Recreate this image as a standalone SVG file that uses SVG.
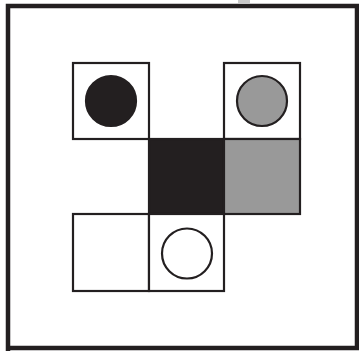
<svg xmlns="http://www.w3.org/2000/svg" width="359" height="353" viewBox="0 0 359 353">
<style>
.cell{stroke:#231f20;stroke-width:2.2}
.dot{stroke:#231f20;stroke-width:2.2}
</style>
<rect width="359" height="353" fill="#fff"/>
<rect x="238" y="0" width="12" height="3" fill="#c8c8c8"/>
<g id="frame">
<path d="M8 351 V6 H357 V348 H8" fill="none" stroke="#231f20" stroke-width="4.5"/>
<path d="M357 6 V349" stroke="#231f20" stroke-width="2.5"/>
</g>
<g id="c-tl"><rect class="cell" x="73" y="63" width="76" height="76" fill="#fff"/><circle class="dot" cx="111" cy="101" r="25" fill="#231f20"/></g>
<g id="c-tr"><rect class="cell" x="224" y="63" width="76" height="76" fill="#fff"/><circle class="dot" cx="262" cy="101" r="25" fill="#999999"/></g>
<g id="c-black"><rect class="cell" x="149" y="139" width="75" height="75" fill="#231f20"/></g>
<g id="c-gray"><rect class="cell" x="224" y="139" width="76" height="75" fill="#999999"/></g>
<g id="c-bl"><rect class="cell" x="73" y="214" width="76" height="77" fill="#fff"/></g>
<g id="c-bm"><rect class="cell" x="149" y="214" width="75" height="77" fill="#fff"/><circle class="dot" cx="187" cy="253.5" r="25" fill="#fff"/></g>
</svg>
